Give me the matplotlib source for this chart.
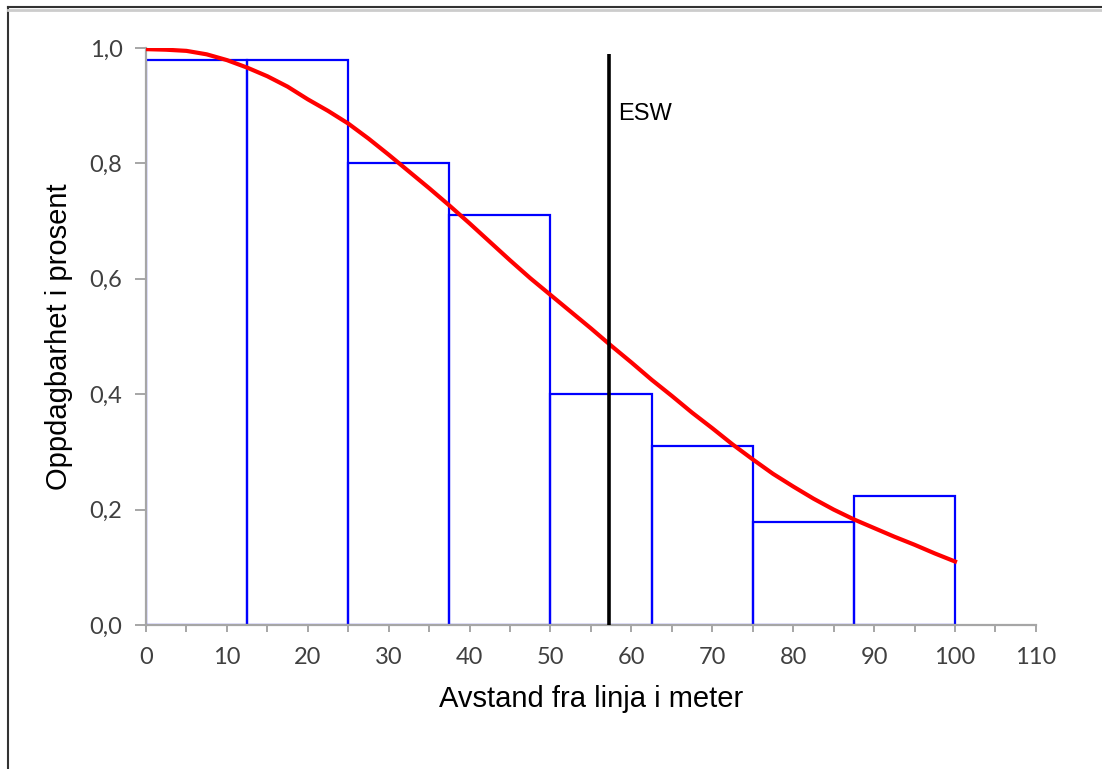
import matplotlib.pyplot as plt
from matplotlib.lines import Line2D
from matplotlib.ticker import FuncFormatter, MultipleLocator

# histogram (bin width 12.5 m)
bin_left = [0, 12.5, 25, 37.5, 50, 62.5, 75, 87.5]
bin_height = [0.98, 0.98, 0.80, 0.71, 0.40, 0.31, 0.178, 0.224]
bin_width = 12.5

# fitted detection curve
curve_x = [0, 2.5, 5, 7.5, 10, 12.5, 15, 17.5, 20, 22.5, 25, 27.5, 30, 32.5,
           35, 37.5, 40, 42.5, 45, 47.5, 50, 52.5, 55, 57.5, 60, 62.5, 65,
           67.5, 70, 72.5, 75, 77.5, 80, 82.5, 85, 87.5, 90, 92.5, 95, 97.5, 100]
curve_y = [0.998, 0.997, 0.995, 0.989, 0.979, 0.966, 0.951, 0.933, 0.911, 0.891,
           0.869, 0.843, 0.815, 0.786, 0.757, 0.727, 0.696, 0.664, 0.632, 0.601,
           0.572, 0.543, 0.514, 0.484, 0.455, 0.425, 0.397, 0.368, 0.341, 0.313,
           0.287, 0.262, 0.24, 0.219, 0.2, 0.183, 0.168, 0.153, 0.139, 0.124, 0.11]

esw_x = 57.2
esw_top = 0.99

fig = plt.figure(figsize=(11.02, 7.69), dpi=100)
ax = fig.add_axes([0.1325, 0.1873, 0.8075, 0.7503])

ax.bar(bin_left, bin_height, width=bin_width, align="edge", fill=False,
       edgecolor="#0000ff", linewidth=1.6, zorder=2)
ax.plot(curve_x, curve_y, color="#ff0000", linewidth=3, zorder=3,
        solid_joinstyle="round")
ax.vlines(esw_x, 0, esw_top, color="black", linewidth=2.6, zorder=4)
ax.text(esw_x + 1.2, 0.885, "ESW", fontsize=17, family="Liberation Sans",
        va="center", ha="left")

ax.set_xlim(0, 110)
ax.set_ylim(0, 1.0)
ax.xaxis.set_major_locator(MultipleLocator(10))
ax.xaxis.set_minor_locator(MultipleLocator(5))
ax.yaxis.set_major_locator(MultipleLocator(0.2))
ax.yaxis.set_major_formatter(FuncFormatter(lambda v, p: f"{v:.1f}".replace(".", ",")))

for s in ["top", "right"]:
    ax.spines[s].set_visible(False)
for s in ["left", "bottom"]:
    ax.spines[s].set_color("#a6a6a6")
    ax.spines[s].set_linewidth(1.6)

ax.tick_params(axis="x", which="both", direction="out", length=5, width=1.4,
               color="#a6a6a6", labelsize=17, labelcolor="#404040", pad=11)
ax.tick_params(axis="y", which="major", direction="out", length=8, width=1.4,
               color="#a6a6a6", labelsize=17, labelcolor="#404040", pad=9)
for lab in ax.get_xticklabels() + ax.get_yticklabels():
    lab.set_family("Lato")

ax.set_xlabel("Avstand fra linja i meter", fontsize=21, family="Liberation Sans",
              labelpad=12)
ax.set_ylabel("Oppdagbarhet i prosent", fontsize=21, family="Liberation Sans",
              labelpad=12)

# chart frame (left and top edge only)
fig.add_artist(Line2D([8 / 1102, 8 / 1102], [0, 1 - 7 / 769],
                      transform=fig.transFigure, color="#333333", linewidth=1.5))
fig.add_artist(Line2D([8 / 1102, 1], [1 - 7 / 769, 1 - 7 / 769],
                      transform=fig.transFigure, color="#333333", linewidth=1.5))
fig.add_artist(Line2D([8 / 1102, 1], [1 - 10 / 769, 1 - 10 / 769],
                      transform=fig.transFigure, color="#cccccc", linewidth=2))

fig.savefig("out.png", dpi=100)
